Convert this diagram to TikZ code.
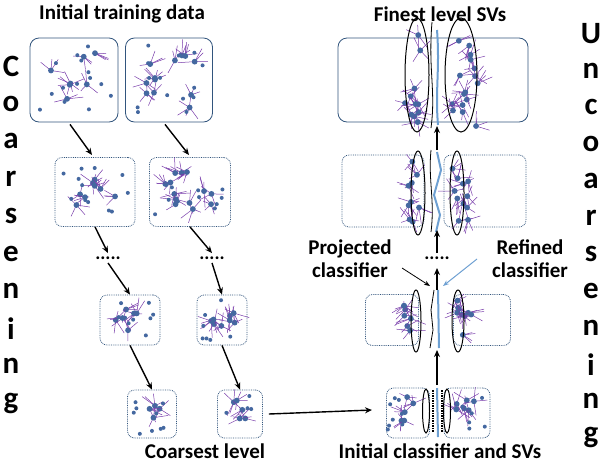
\documentclass[tikz,border=0pt]{standalone}
\usepackage{fontspec}
\setmainfont{Carlito}
\usetikzlibrary{arrows.meta}
\definecolor{hubblue}{RGB}{68,104,160}
\definecolor{spokeviolet}{RGB}{120,60,170}
\definecolor{frameblue}{RGB}{50,85,125}
\definecolor{cutblue}{RGB}{110,160,210}

\tikzset{
  panel/.style={draw=frameblue,thick,rounded corners=9pt},
  lightpanel/.style={draw=frameblue,densely dotted,thick,rounded corners=7pt},
  spoke/.style={draw=spokeviolet,line width=0.5pt},
  hub/.style={fill=hubblue},
  levelarrow/.style={-{Stealth[length=7pt,width=6pt]},line width=1.4pt},
  svring/.style={draw=black,line width=1pt},
  caption/.style={font=\bfseries\fontsize{21}{23}\selectfont,inner sep=1pt},
  sideletter/.style={font=\bfseries\fontsize{31}{33}\selectfont},
  ellip/.style={font=\bfseries\fontsize{19}{22}\selectfont}
}

% x y w h n : hubs with spokes
\newcommand{\blob}[5]{%
  \foreach \k in {1,...,#5}{
    \pgfmathsetmacro{\px}{#1+#3*rand/2}
    \pgfmathsetmacro{\py}{#2+#4*rand/2}
    \foreach \a in {1,2,3,4}{\draw[spoke] (\px,\py) -- ++({rnd*360}:{8+rnd*9});}
    \fill[hub] (\px,\py) circle (2.9);
  }}
% x y w h n : loose points
\newcommand{\specks}[5]{%
  \foreach \k in {1,...,#5}{
    \pgfmathsetmacro{\px}{#1+#3*rand/2}
    \pgfmathsetmacro{\py}{#2+#4*rand/2}
    \fill[hub] (\px,\py) circle (2);
  }}

\begin{document}
\begin{tikzpicture}[x=1pt,y=-1pt]
    \pgfmathsetseed{7}
    \useasboundingbox (0,0) rectangle (604,464);

    % side words
    \foreach \c [count=\i from 0] in {C,o,a,r,s,e,n,i,n,g}
        \node[sideletter] (l\i) at (11,{66+37.5*\i}) {\c};
    \foreach \c [count=\i from 0] in {U,n,c,o,a,r,s,e,n,i,n,g}
        \node[sideletter] (r\i) at (591,{34+36.7*\i}) {\c};

    % coarsening side
    \node[caption] (tInit) at (122,14) {Initial training data};
    \node[panel,minimum width=88pt,minimum height=84pt] (a1) at (74,80) {};
    \node[panel,minimum width=87pt,minimum height=84pt] (b1) at (169,80) {};
    \node[lightpanel,minimum width=80pt,minimum height=69pt] (a2) at (95,192) {};
    \node[lightpanel,minimum width=81pt,minimum height=69pt] (b2) at (190,192) {};
    \node[ellip] (da) at (108,258) {.....};
    \node[ellip] (db) at (212,258) {.....};
    \node[lightpanel,minimum width=60pt,minimum height=50pt] (a3) at (130,320) {};
    \node[lightpanel,minimum width=50pt,minimum height=50pt] (b3) at (222,320) {};
    \node[lightpanel,minimum width=49pt,minimum height=48pt] (a4) at (152,414) {};
    \node[lightpanel,minimum width=45pt,minimum height=48pt] (b4) at (240,414) {};
    \node[caption] (tCoarse) at (205,451) {Coarsest level};

    \blob{74}{78}{55}{50}{7}      \specks{74}{80}{76}{72}{14}
    \blob{169}{80}{60}{55}{12}    \specks{169}{80}{76}{72}{14}
    \blob{95}{192}{45}{40}{8}     \specks{95}{192}{70}{58}{12}
    \blob{190}{192}{50}{40}{13}   \specks{190}{192}{70}{58}{12}
    \blob{130}{318}{30}{25}{6}    \specks{130}{320}{50}{42}{10}
    \blob{222}{318}{30}{25}{8}    \specks{222}{320}{40}{42}{8}
    \blob{150}{412}{22}{20}{4}    \specks{152}{414}{40}{40}{10}
    \blob{240}{410}{20}{20}{5}    \specks{240}{414}{36}{40}{4}

    \draw[levelarrow] (a1.south) ++(-4,2) -- (92,155) coordinate (ea1);
    \draw[levelarrow] (b1.south) ++(-4,2) -- (189,155) coordinate (eb1);
    \draw[levelarrow] (a2.south) -- (da.north);
    \draw[levelarrow] (b2.south) -- (db.north);
    \draw[levelarrow] (da.south) -- (a3.north);
    \draw[levelarrow] (db.south) -- (b3.north);
    \draw[levelarrow] (a3.south) -- (a4.north);
    \draw[levelarrow] (b3.south) -- (b4.north);
    \draw[levelarrow] (b4.east) ++(6,0) -- (372,410) coordinate (ein);

    % uncoarsening side
    \node[caption] (tFine) at (440,14) {Finest level SVs};
    \node[panel,minimum width=190pt,minimum height=84pt] (f1) at (433,80) {};
    \node[lightpanel,minimum width=82pt,minimum height=72pt] (f2l) at (383,191) {};
    \node[lightpanel,minimum width=82pt,minimum height=72pt] (f2r) at (485,191) {};
    \node[ellip] (df) at (437,258) {.....};
    \node[lightpanel,minimum width=53pt,minimum height=51pt] (f3l) at (392,320) {};
    \node[lightpanel,minimum width=57pt,minimum height=51pt] (f3r) at (482,320) {};
    \node[lightpanel,minimum width=43pt,minimum height=50pt] (f4l) at (408,413) {};
    \node[lightpanel,minimum width=46pt,minimum height=50pt] (f4r) at (467,413) {};
    \node[caption] (tInitC) at (440,451) {Initial classifier and SVs};

    \blob{412}{80}{18}{90}{12}   \blob{465}{82}{26}{90}{16}
    \blob{413}{192}{14}{62}{9}   \blob{460}{192}{18}{62}{11}
    \blob{408}{320}{12}{44}{7}   \blob{466}{320}{18}{44}{9}
    \blob{412}{410}{22}{26}{5}   \blob{463}{410}{22}{26}{6}
    \specks{402}{414}{30}{40}{8} \specks{475}{414}{26}{40}{6}

    \draw[svring] (417,75) ellipse (12 and 57);
    \draw[svring] (461,75) ellipse (16 and 57);
    \draw[svring] (418,193) ellipse (7 and 42);
    \draw[svring] (457,193) ellipse (7 and 42);
    \draw[svring] (416,321) ellipse (5 and 31);
    \draw[svring] (458,321) ellipse (6 and 31);
    \draw[svring] (426,411) ellipse (3.5 and 22);
    \draw[svring] (447,411) ellipse (3.5 and 22);

    % classifiers
    \draw[black,line width=0.8pt] (432,22) .. controls (428,70) and (436,90) .. (431,128);
    \draw[cutblue,line width=2pt] (437,30) .. controls (440,70) and (435,90) .. (438,125);
    \draw[black,line width=0.8pt] (431,150) .. controls (428,180) and (435,200) .. (431,232);
    \draw[cutblue,line width=2pt] (437,152) -- (441,170) -- (434,195) -- (440,215) -- (436,232);
    \draw[black,line width=0.8pt] (434,290) -- (431,310) -- (433,330) -- (430,348);
    \draw[cutblue,line width=2pt] (438,290) -- (439,348);
    \draw[cutblue,line width=2pt] (437,388) -- (438,437);
    \draw[black,densely dotted,line width=1.5pt] (433,390) -- (433,432);
    \draw[black,densely dotted,line width=1.5pt] (442,390) -- (442,432);

    \draw[levelarrow] (437,150) -- (437,126);
    \draw[levelarrow] (437,253) -- (437,230);
    \draw[levelarrow] (437,290) -- (437,268);
    \draw[levelarrow] (437,385) -- (437,350);

    \node[caption,align=center] (tProj) at (350,259) {Projected\\classifier};
    \node[caption,align=center] (tRef) at (530,259) {Refined\\classifier};
    \coordinate (pProj) at (430,286);
    \coordinate (pRef) at (443,286);
    \draw[-{Stealth[length=6pt]},line width=0.8pt] (402,268) -- (pProj);
    \draw[cutblue,-{Stealth[length=6pt]},line width=1pt] (477,259) -- (pRef);
\end{tikzpicture}
\end{document}
